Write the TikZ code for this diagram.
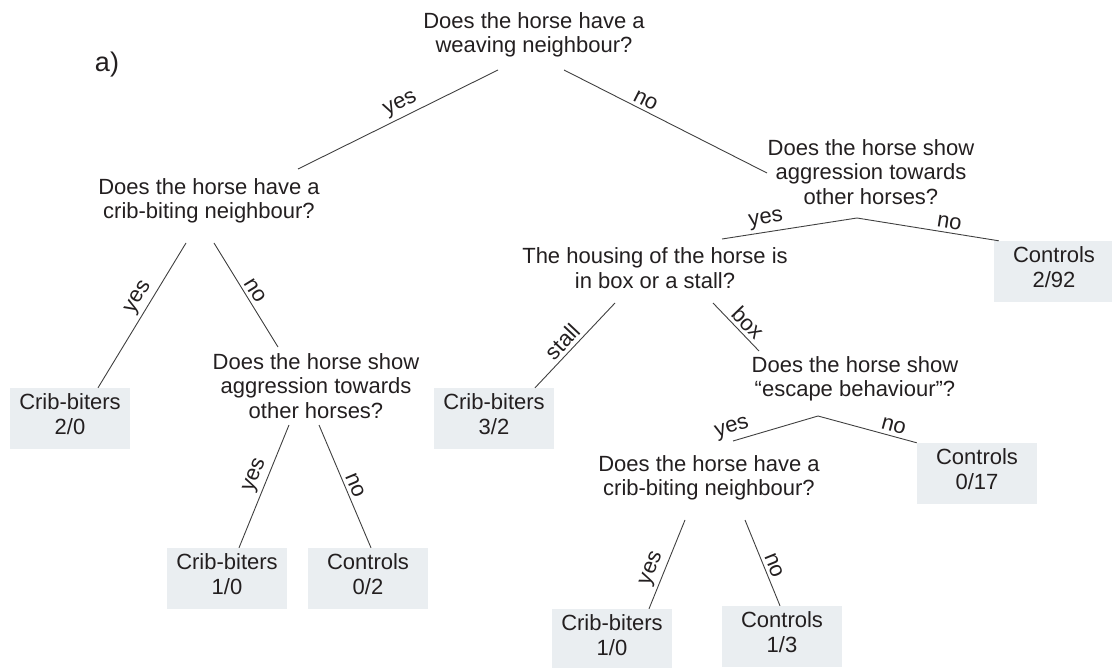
\documentclass[tikz,border=0pt]{standalone}
\usepackage{fontspec}
\setmainfont{Liberation Sans}

\definecolor{leafgray}{RGB}{234,238,241}
\definecolor{inkgray}{RGB}{35,31,32}

\tikzset{
  question/.style={align=center, inner sep=0pt, font=\fontsize{22}{24.5}\selectfont},
  leaf/.style={fill=leafgray, minimum width=120pt, minimum height=61pt,
    inner sep=0pt, text depth=9pt, align=center, font=\fontsize{22}{24.5}\selectfont},
  branch/.style={draw=black!75, line width=0.9pt},
  answer/.style={sloped, above, font=\fontsize{22}{24}\selectfont}
}

\begin{document}
\begin{tikzpicture}[x=1pt, y=-1pt, text=inkgray]
  \useasboundingbox (0,0) rectangle (1112,668);

  \node[font=\fontsize{27}{30}\selectfont] (tag) at (107,65) {a)};

  % questions
  \node[question] (root)  at (534,35)  {Does the horse have a\\weaving neighbour?};
  \node[question] (crib1) at (209,201) {Does the horse have a\\crib-biting neighbour?};
  \node[question] (aggr1) at (871,172) {Does the horse show\\aggression towards\\other horses?};
  \node[question] (aggr2) at (316,386) {Does the horse show\\aggression towards\\other horses?};
  \node[question] (house) at (655,268) {The housing of the horse is\\in box or a stall?};
  \node[question] (escape) at (855,379) {Does the horse show\\``escape behaviour''?};
  \node[question] (crib2) at (709,478) {Does the horse have a\\crib-biting neighbour?};

  % leaves
  \node[leaf] (cb20)  at (70,418.5)   {Crib-biters\\2/0};
  \node[leaf] (cb10)  at (227,578.5)  {Crib-biters\\1/0};
  \node[leaf] (c02)   at (368,578.5)  {Controls\\0/2};
  \node[leaf] (cb32)  at (494,418.5)  {Crib-biters\\3/2};
  \node[leaf] (c292)  at (1054,271.5) {Controls\\2/92};
  \node[leaf] (c017)  at (977,473.5)  {Controls\\0/17};
  \node[leaf] (cb10b) at (612,639.5)  {Crib-biters\\1/0};
  \node[leaf] (c13)   at (782,636.5)  {Controls\\1/3};

  % branches
  \draw[branch] ([shift={(-36,35)}]root.center) -- node[answer, pos=.46] {yes} ([shift={(89,-32)}]crib1.center);
  \draw[branch] ([shift={(30,35)}]root.center) -- node[answer, pos=.38] {no} ([shift={(-104,1)}]aggr1.center);

  \draw[branch] ([shift={(-23,42)}]crib1.center) -- node[answer, pos=.42] {yes} ([xshift=28pt]cb20.north);
  \draw[branch] ([shift={(5,42)}]crib1.center) -- node[answer, pos=.51] {no} ([shift={(-38,-39)}]aggr2.center);

  \draw[branch] ([shift={(-27,39)}]aggr2.center) -- node[answer, pos=.45] {yes} ([xshift=12pt]cb10.north);
  \draw[branch] ([shift={(3,39)}]aggr2.center) -- node[answer, pos=.52] {no} ([xshift=3pt]c02.north);

  \draw[branch] ([shift={(-14,46)}]aggr1.center) -- node[answer, pos=.66] {yes} ([shift={(67,-29)}]house.center);
  \draw[branch] ([shift={(-14,46)}]aggr1.center) -- node[answer, pos=.64] {no} ([xshift=5pt]c292.north west);

  \draw[branch] ([shift={(-40,35)}]house.center) -- node[answer, pos=.55] {stall} ([xshift=41pt]cb32.north);
  \draw[branch] ([shift={(58,35)}]house.center) -- node[answer, pos=.58] {box} ([shift={(-96,-28)}]escape.center);

  \draw[branch] ([shift={(-37,37)}]escape.center) -- node[answer, pos=.97] {yes} ([shift={(24,-37)}]crib2.center);
  \draw[branch] ([shift={(-37,37)}]escape.center) -- node[answer, pos=.74] {no} (c017.north west);

  \draw[branch] ([shift={(-24,42)}]crib2.center) -- node[answer, pos=.6] {yes} ([xshift=37pt]cb10b.north);
  \draw[branch] ([shift={(36,42)}]crib2.center) -- node[answer, pos=.57] {no} ([xshift=-2pt]c13.north);
\end{tikzpicture}
\end{document}
